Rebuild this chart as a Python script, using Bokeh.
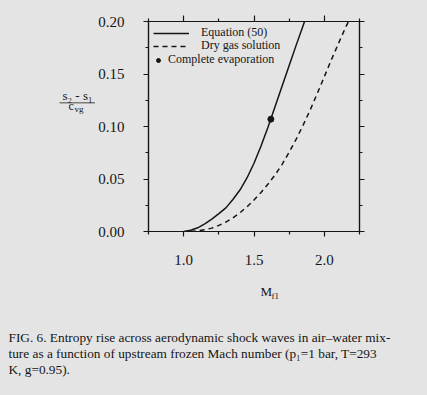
from bokeh.plotting import figure
from bokeh.models import (LinearAxis, FixedTicker, Range1d, Label, BoxAnnotation,
                          CustomJSTickFormatter, Legend, LegendItem)
from bokeh.layouts import row, column
from bokeh.embed import file_html
from bokeh.resources import INLINE

# ---- data ----
mach_eq50 = [1.00, 1.05, 1.10, 1.15, 1.20, 1.25, 1.30, 1.35, 1.40, 1.45, 1.50,
             1.55, 1.60, 1.65, 1.70, 1.75, 1.80, 1.85, 1.87]
ds_eq50 = [0.0000, 0.0012, 0.0035, 0.0072, 0.0118, 0.0170, 0.0225, 0.0305, 0.0395,
           0.0510, 0.0650, 0.0815, 0.0995, 0.1190, 0.1385, 0.1580, 0.1775, 0.1965, 0.2040]

mach_dry = [1.05, 1.10, 1.15, 1.20, 1.25, 1.30, 1.35, 1.40, 1.45, 1.50, 1.55, 1.60,
            1.65, 1.70, 1.75, 1.80, 1.85, 1.90, 1.95, 2.00, 2.05, 2.10, 2.15, 2.19]
ds_dry = [0.0000, 0.0007, 0.0017, 0.0032, 0.0058, 0.0090, 0.0130, 0.0178, 0.0235,
          0.0300, 0.0372, 0.0452, 0.0540, 0.0640, 0.0755, 0.0880, 0.1015, 0.1160,
          0.1315, 0.1475, 0.1635, 0.1790, 0.1940, 0.2050]

mach_evap = [1.62]
ds_evap = [0.107]

x_major = [1.0, 1.5, 2.0]
x_minor = [0.75, 1.25, 1.75, 2.25]
y_major = [0.00, 0.05, 0.10, 0.15, 0.20]
y_minor = [0.025, 0.075, 0.125, 0.175]

legend_labels = ["Equation (50)", "Dry gas solution", "Complete evaporation"]
y_label_num = "s\u2082 - s\u2081"
y_label_den = ("c", "vg")
x_label = ("M", "f1")
caption_lines = [
    "FIG. 6. Entropy rise across aerodynamic shock waves in air\u2013water mix-",
    "ture as a function of upstream frozen Mach number (p\u2081=1 bar, T=293",
    "K, g=0.95).",
]

BG = "#e4e4e4"
INK = "#151515"
FONT = "Liberation Serif"

TOP_H = 270
LEFT_W = 95

# ---------------- main plot ----------------
p = figure(width=427 - LEFT_W, height=TOP_H, output_backend="svg", toolbar_location=None,
           x_range=Range1d(0.75, 2.25), y_range=Range1d(0.0, 0.20),
           min_border_left=146 - LEFT_W, min_border_right=68, min_border_top=21,
           min_border_bottom=TOP_H - 231, background_fill_color=BG,
           border_fill_color=BG, outline_line_color=INK, outline_line_width=1.2)
p.grid.visible = False

r_eq = p.line(mach_eq50, ds_eq50, line_color=INK, line_width=1.5)
r_dry = p.line(mach_dry, ds_dry, line_color=INK, line_width=1.5, line_dash="5 4")
r_evap = p.scatter(mach_evap, ds_evap, size=6, color=INK)


def style(ax):
    ax.axis_line_color = INK
    ax.axis_line_width = 1.2
    ax.major_tick_line_color = INK
    ax.minor_tick_line_color = INK
    ax.major_tick_line_width = 1.2
    ax.minor_tick_line_width = 1.2
    ax.major_tick_in = 0
    ax.major_tick_out = 5
    ax.minor_tick_in = 0
    ax.minor_tick_out = 3
    ax.major_label_text_font = FONT
    ax.major_label_text_font_size = "15px"
    ax.major_label_text_color = INK


xa = p.xaxis[0]
xa.ticker = FixedTicker(ticks=x_major, minor_ticks=x_minor)
style(xa)
xa.major_label_standoff = 18
xa.formatter = CustomJSTickFormatter(code="return tick.toFixed(1)")

ya = p.yaxis[0]
ya.ticker = FixedTicker(ticks=y_major, minor_ticks=y_minor)
style(ya)
ya.major_label_standoff = 19
ya.formatter = CustomJSTickFormatter(code="return tick.toFixed(2)")

# mirror axes (ticks only) on top and right
top = LinearAxis(ticker=FixedTicker(ticks=x_major, minor_ticks=x_minor))
style(top)
top.major_tick_out = 6
top.major_label_text_font_size = "8px"
top.major_label_text_alpha = 0
top.major_label_standoff = 0
p.add_layout(top, "above")

right = LinearAxis(ticker=FixedTicker(ticks=y_major, minor_ticks=y_minor))
style(right)
right.major_label_text_font_size = "8px"
right.major_label_text_alpha = 0
right.major_label_standoff = 0
p.add_layout(right, "right")


def one_row_legend(label, renderer, vx, vy, glyph_w, standoff):
    lg = Legend(items=[LegendItem(label=label, renderers=[renderer])],
                location=(vx, vy))
    lg.margin = 0
    lg.padding = 0
    lg.border_line_alpha = 0
    lg.background_fill_alpha = 0
    lg.glyph_height = 10
    lg.label_height = 10
    lg.glyph_width = glyph_w
    lg.label_standoff = standoff
    lg.label_text_font = FONT
    lg.label_text_font_size = "12px"
    lg.label_text_color = INK
    p.add_layout(lg, "center")


one_row_legend(legend_labels[0], r_eq, 5, 191, 36, 12)
one_row_legend(legend_labels[1], r_dry, 5, 178, 36, 12)
one_row_legend(legend_labels[2], r_evap, 5, 164, 10, 5)


def text_panel(w, h, y0):
    f = figure(width=w, height=h, output_backend="svg", toolbar_location=None,
               x_range=Range1d(0, w), y_range=Range1d(y0 + h, y0),
               min_border=0, background_fill_color=BG, border_fill_color=BG,
               outline_line_color=None, x_axis_location=None, y_axis_location=None)
    f.grid.visible = False
    return f


def lab(f, text, x, y, size="13px", align="left"):
    f.add_layout(Label(x=x, y=y, text=text, text_font=FONT, text_font_size=size,
                       text_color=INK, text_align=align, text_baseline="middle"))


# ---------------- left panel: y-axis label as fraction ----------------
lp = text_panel(LEFT_W, TOP_H, 0)
lab(lp, y_label_num, 77, 95, size="13px", align="center")
lp.add_layout(BoxAnnotation(left=59, right=95, top=104.0, bottom=105.0,
                            fill_color=INK, fill_alpha=1, line_alpha=0))
lab(lp, y_label_den[0], 68, 109, size="12px")
lab(lp, y_label_den[1], 74, 113, size="9px")

# ---------------- bottom panel: x label and caption ----------------
bp = text_panel(427, 395 - TOP_H, TOP_H)
lab(bp, x_label[0], 260, 291, size="13px")
lab(bp, x_label[1], 271, 295, size="9px")
for t, yy in zip(caption_lines, [337, 353, 369]):
    lab(bp, t, 8, yy, size="13.3px")

layout = column(row(lp, p, spacing=0, styles={"background-color": BG}), bp,
                spacing=0, styles={"background-color": BG})
open("out.html", "w").write(file_html(layout, INLINE))
